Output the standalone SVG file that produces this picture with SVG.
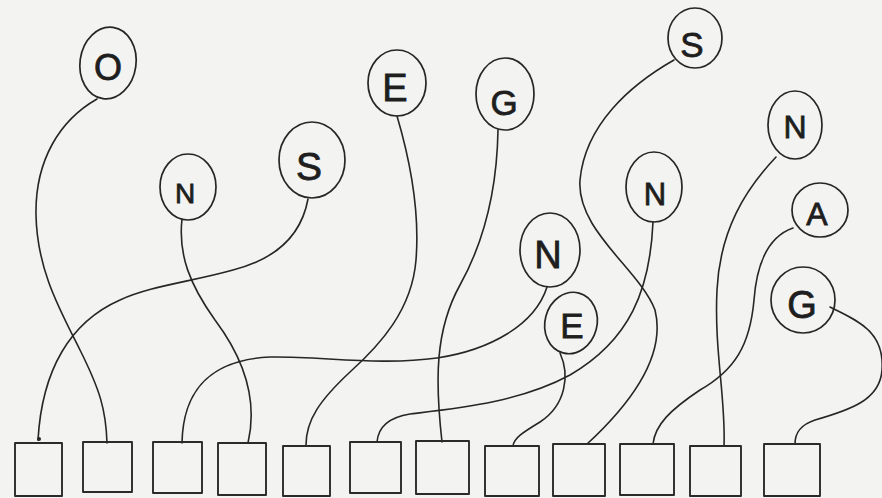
<svg xmlns="http://www.w3.org/2000/svg" width="882" height="498" viewBox="0 0 882 498">
  <style>
    .bg { fill: #f3f3f1; }
    .balloon { fill: none; stroke: #262626; stroke-width: 1.7; }
    .box { fill: none; stroke: #2a2a2a; stroke-width: 1.9; stroke-linejoin: round; }
    .string { fill: none; stroke: #262626; stroke-width: 1.6; stroke-linecap: round; }
    .letter { font-family: "Liberation Sans", "DejaVu Sans", sans-serif; fill: #1e1e1e; stroke: #1e1e1e; stroke-width: 0.8; text-anchor: middle; }
  </style>
  <rect class="bg" x="0" y="0" width="882" height="498"/>

  <g id="connectors">
    <path class="string" d="M308,199 C302,232 280,258 233,270 C190,282 150,286 120,300 C70,322 42,370 38,440"/>
    <path class="string" d="M97,99 C60,120 35,160 36,215 C37,270 60,310 80,350 C100,390 106,410 107,443"/>
    <path class="string" d="M547,287 C535,325 490,350 437,358 C380,366 320,356 270,357 C210,360 183,390 182,443"/>
    <path class="string" d="M182,219 C178,255 190,285 215,320 C245,360 258,400 248,443"/>
    <path class="string" d="M397,116 C410,160 420,210 416,260 C412,310 380,345 350,372 C320,400 306,420 306,445"/>
    <path class="string" d="M653,222 C650,290 630,340 570,375 C520,402 460,408 410,414 C385,418 378,430 377,442"/>
    <path class="string" d="M498,130 C497,190 485,240 460,285 C435,330 435,380 442,442"/>
    <path class="string" d="M560,353 C570,375 566,405 540,422 C522,433 514,438 513,446"/>
    <path class="string" d="M674,60 C630,85 585,125 580,180 C576,230 640,270 655,310 C665,350 640,395 587,444"/>
    <path class="string" d="M793,228 C770,236 757,260 754,300 C750,345 735,370 700,390 C670,410 655,425 653,444"/>
    <path class="string" d="M776,157 C745,190 720,230 717,290 C714,350 726,400 724,446"/>
    <path class="string" d="M830,307 C855,320 885,330 882,370 C880,400 850,410 815,420 C800,425 795,433 795,444"/>
    <circle cx="39" cy="439" r="2" fill="#262626"/>
  </g>

  <g id="balloon-O"><ellipse class="balloon" cx="108" cy="63" rx="28" ry="36" transform="rotate(8 108 63)"/><text class="letter" x="108" y="80" font-size="36">O</text></g>
  <g id="balloon-N1"><ellipse class="balloon" cx="188" cy="187" rx="28" ry="33"/><text class="letter" x="185" y="203" font-size="28">N</text></g>
  <g id="balloon-S1"><ellipse class="balloon" cx="312" cy="160" rx="33" ry="38"/><text class="letter" x="309" y="180" font-size="39">S</text></g>
  <g id="balloon-E1"><ellipse class="balloon" cx="397" cy="83" rx="29" ry="33"/><text class="letter" x="395" y="101" font-size="38">E</text></g>
  <g id="balloon-G1"><ellipse class="balloon" cx="505" cy="94" rx="29" ry="36"/><text class="letter" x="504" y="115" font-size="35">G</text></g>
  <g id="balloon-S2"><ellipse class="balloon" cx="695" cy="38" rx="27" ry="30"/><text class="letter" x="692" y="57" font-size="35">S</text></g>
  <g id="balloon-N2"><ellipse class="balloon" cx="654" cy="187" rx="28" ry="35"/><text class="letter" x="655" y="205" font-size="31">N</text></g>
  <g id="balloon-N3"><ellipse class="balloon" cx="795" cy="125" rx="27" ry="34"/><text class="letter" x="795" y="138" font-size="32">N</text></g>
  <g id="balloon-A"><ellipse class="balloon" cx="820" cy="210" rx="28" ry="27"/><text class="letter" x="817" y="225" font-size="32">A</text></g>
  <g id="balloon-N4"><ellipse class="balloon" cx="550" cy="250" rx="30" ry="37"/><text class="letter" x="548" y="268" font-size="38">N</text></g>
  <g id="balloon-E2"><ellipse class="balloon" cx="571" cy="323" rx="26" ry="31" transform="rotate(15 571 323)"/><text class="letter" x="572" y="338" font-size="35">E</text></g>
  <g id="balloon-G2"><ellipse class="balloon" cx="803" cy="300" rx="32" ry="33"/><text class="letter" x="802" y="318" font-size="38">G</text></g>

  <g id="box-1"><rect class="box" x="15" y="443" width="47" height="53"/></g>
  <g id="box-2"><rect class="box" x="83" y="442" width="49" height="50"/></g>
  <g id="box-3"><rect class="box" x="153" y="442" width="49" height="51"/></g>
  <g id="box-4"><rect class="box" x="218" y="443" width="48" height="52"/></g>
  <g id="box-5"><rect class="box" x="283" y="446" width="47" height="50"/></g>
  <g id="box-6"><rect class="box" x="350" y="442" width="51" height="51"/></g>
  <g id="box-7"><rect class="box" x="416" y="441" width="53" height="53"/></g>
  <g id="box-8"><rect class="box" x="485" y="446" width="54" height="50"/></g>
  <g id="box-9"><rect class="box" x="553" y="444" width="52" height="52"/></g>
  <g id="box-10"><rect class="box" x="620" y="444" width="54" height="51"/></g>
  <g id="box-11"><rect class="box" x="690" y="446" width="51" height="50"/></g>
  <g id="box-12"><rect class="box" x="764" y="444" width="56" height="52"/></g>
</svg>
